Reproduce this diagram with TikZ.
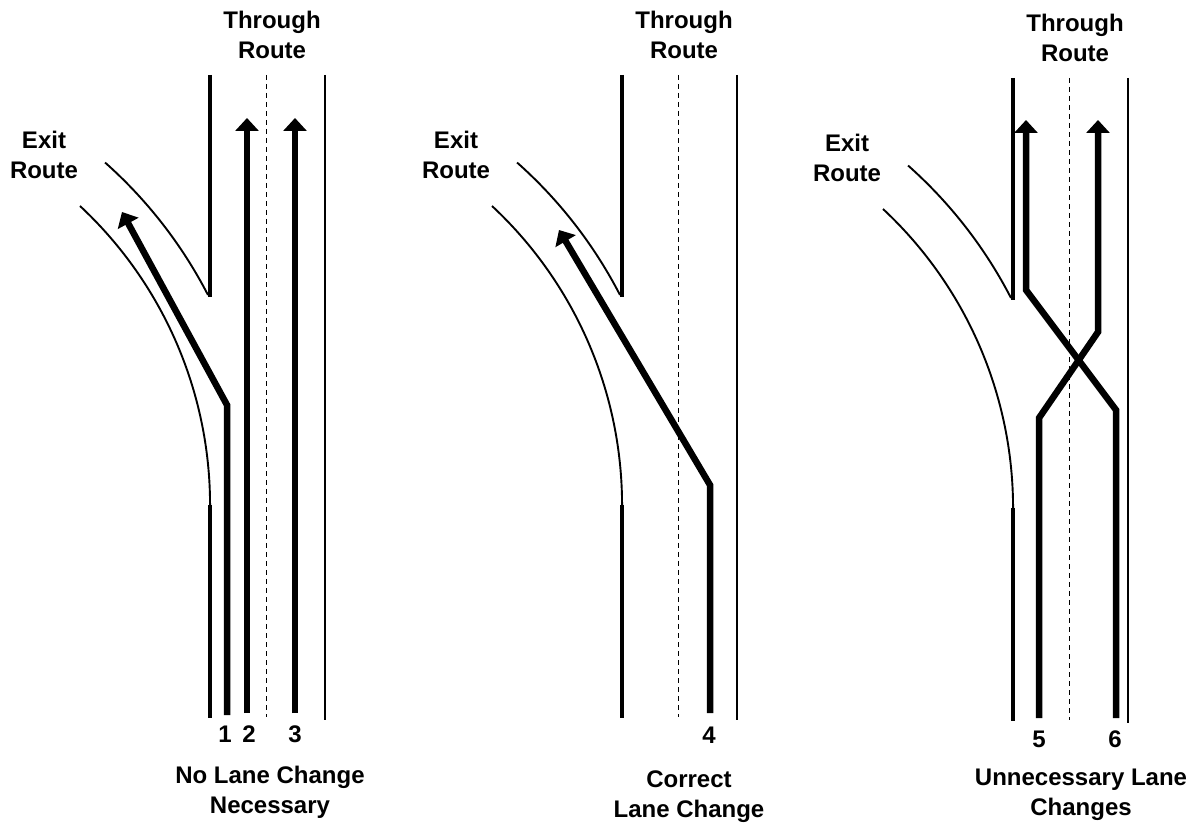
\documentclass[tikz,border=0pt]{standalone}
\usepackage{fontspec}
\setmainfont{Liberation Sans}
\usetikzlibrary{arrows.meta}

\begin{document}
\begin{tikzpicture}[x=1pt,y=1pt,font=\fontsize{24}{30}\selectfont\bfseries,
    >={Triangle[width=23pt,length=13pt]},
    edge/.style={line width=2.5pt},
    curb/.style={line width=3.5pt},
    ramp/.style={line width=1.9pt},
    lanemark/.style={line width=1pt,dash pattern=on 5pt off 4pt},
    route/.style={line width=6.5pt,->},
    lbl/.style={align=center,anchor=base,inner sep=0pt}]
  \useasboundingbox (0,0) rectangle (1198,822);
  % road outline, the same for all three cases
  \foreach \dx/\dy [count=\i] in {0/0,412/0,803/-3}{
    \begin{scope}[shift={(\dx,\dy)}]
      \draw[curb] (210,747) -- (210,525);
      \draw[edge] (325,747) -- (325,102);
      \draw[lanemark] (266,747) -- (266,105);
      \draw[ramp] (-199,317) ++(48.4:458) arc[start angle=48.4,end angle=27.3,radius=458];
      \draw[ramp] (80,616) arc[start angle=47,end angle=0,radius=409];
      \draw[curb] (210,317) -- (210,104);
      \node[lbl] (thru\i) at (272,763) {Through\\Route};
      \node[lbl] (exit\i) at (44,643) {Exit\\Route};
    \end{scope}
  }
  % no lane change
  \draw[route] (227,107) -- (227,417) -- (122,610);
  \draw[route] (247,109) -- (247,704);
  \draw[route] (295,109) -- (295,704);
  \node[lbl] (n1) at (225,80) {1};
  \node[lbl] (n2) at (249,80) {2};
  \node[lbl] (n3) at (295,80) {3};
  \node[lbl] (cap1) at (270,9) {No Lane Change\\Necessary};
  % correct lane change
  \draw[route] (710,109) -- (710,337) -- (559,592);
  \node[lbl] (n4) at (709,79) {4};
  \node[lbl] (cap2) at (689,5) {Correct\\Lane Change};
  % unnecessary lane changes
  \draw[route] (1039,104) -- (1039,404) -- (1098,490) -- (1098,702);
  \draw[route] (1116,104) -- (1116,412) -- (1026,532) -- (1026,702);
  \node[lbl] (n5) at (1039,75) {5};
  \node[lbl] (n6) at (1115,75) {6};
  \node[lbl] (cap3) at (1081,7) {Unnecessary Lane\\Changes};
\end{tikzpicture}
\end{document}
